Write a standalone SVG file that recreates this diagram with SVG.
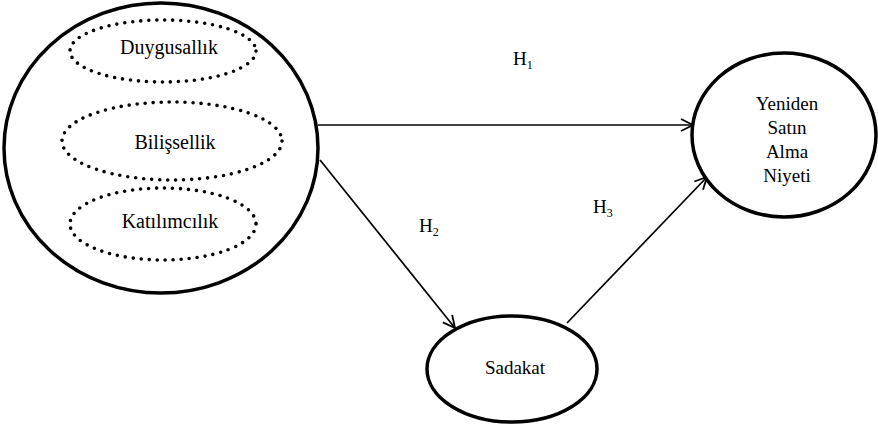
<svg xmlns="http://www.w3.org/2000/svg" width="878" height="427" viewBox="0 0 878 427">
<style>
.node{fill:#fff;stroke:#000;stroke-width:3.5}
.dot{fill:none;stroke:#000;stroke-width:3.6;stroke-linecap:round;stroke-dasharray:0 8}
.lbl{font-family:"Liberation Serif","Times New Roman",serif;font-size:19px;fill:#000;text-anchor:middle}
.in{font-size:20px}
.h{font-family:"Liberation Serif","Times New Roman",serif;font-size:19px;fill:#000}
.sub{font-size:12px}
.conn{stroke:#000;stroke-width:1.7;fill:none}
</style>
<defs>
<marker id="arr" markerUnits="userSpaceOnUse" markerWidth="16" markerHeight="16" refX="13" refY="7" orient="auto" viewBox="0 0 16 14">
<path d="M1,1 L13,7 L1,13" fill="none" stroke="#000" stroke-width="1.8"/>
</marker>
</defs>
<g id="connectors">
<line class="conn" x1="318" y1="125" x2="693" y2="125" marker-end="url(#arr)"/>
<line class="conn" x1="320" y1="160" x2="455" y2="328" marker-end="url(#arr)"/>
<line class="conn" x1="567" y1="323" x2="707" y2="177" marker-end="url(#arr)"/>
</g>
<g id="construct">
<ellipse class="node" cx="161" cy="148" rx="157" ry="145"/>
<g id="duygusallik">
<ellipse class="dot" cx="163" cy="51" rx="93" ry="31"/>
<text class="lbl in" x="169" y="54">Duygusallık</text>
</g>
<g id="bilissellik">
<ellipse class="dot" cx="172" cy="141" rx="110" ry="39"/>
<text class="lbl in" x="175" y="149">Bilişsellik</text>
</g>
<g id="katilimcilik">
<ellipse class="dot" cx="163" cy="224" rx="93" ry="36"/>
<text class="lbl in" x="170" y="228">Katılımcılık</text>
</g>
</g>
<g id="niyet">
<ellipse class="node" cx="784" cy="135" rx="92" ry="82"/>
<text class="lbl" x="787" y="110">Yeniden</text>
<text class="lbl" x="787" y="134">Satın</text>
<text class="lbl" x="787" y="158">Alma</text>
<text class="lbl" x="787" y="182">Niyeti</text>
</g>
<g id="sadakat">
<ellipse class="node" cx="512" cy="369" rx="85" ry="53"/>
<text class="lbl" x="515" y="374">Sadakat</text>
</g>
<g id="labels">
<text class="h" x="513" y="65">H<tspan class="sub" dy="4">1</tspan></text>
<text class="h" x="419" y="232">H<tspan class="sub" dy="4">2</tspan></text>
<text class="h" x="593" y="213">H<tspan class="sub" dy="4">3</tspan></text>
</g>
</svg>
